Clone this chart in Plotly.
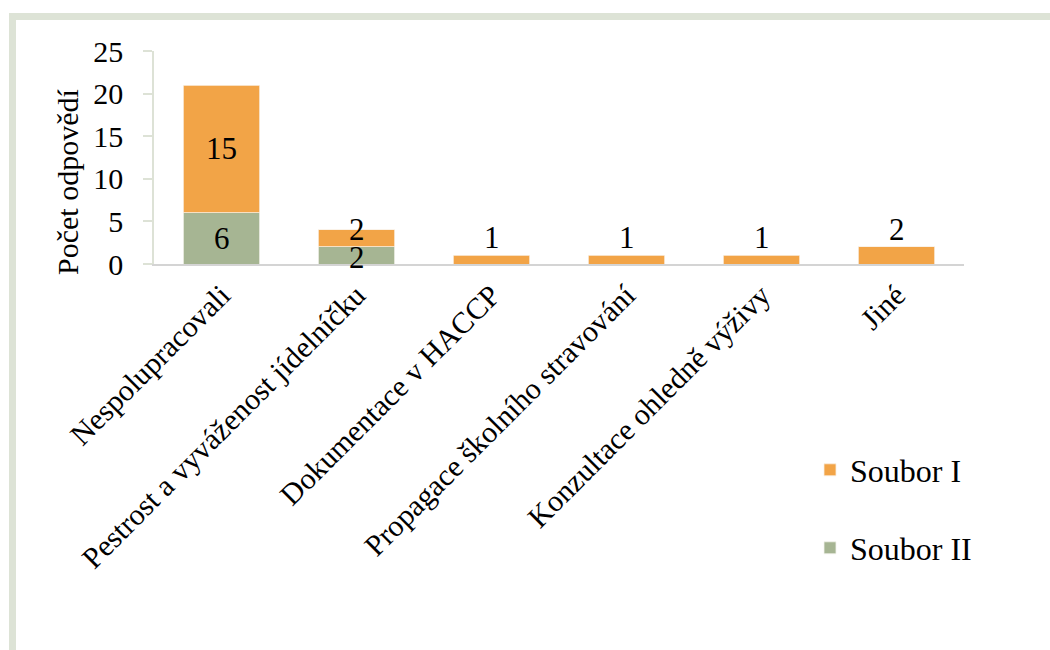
import plotly.graph_objects as go

categories = [
    "Nespolupracovali",
    "Pestrost a vyváženost jídelníčku",
    "Dokumentace v HACCP",
    "Propagace školního stravování",
    "Konzultace ohledně výživy",
    "Jiné",
]
soubor_i = [15, 2, 1, 1, 1, 2]
soubor_ii = [6, 2, 0, 0, 0, 0]

y_ticks = [0, 5, 10, 15, 20, 25]

ORANGE = "#F2A447"
GREEN = "#A6B593"
FONT = "Liberation Serif"

# plot-area geometry in pixels (used to place the frame, title and legends in paper coordinates)
W, H = 1050, 650
L, R, T, B = 154, 86, 51, 386
pw, ph = W - L - R, H - T - B


def px_x(x):
    return (x - L) / pw


def px_y(y):
    return (H - B - y) / ph


legend_font = dict(family=FONT, size=32, color="black")

fig = go.Figure()
fig.add_trace(go.Bar(
    x=categories, y=soubor_ii, name="Soubor II",
    marker=dict(color=GREEN, line=dict(color="#f4f4ee", width=0.8)),
    legend="legend2",
))
fig.add_trace(go.Bar(
    x=categories, y=soubor_i, name="Soubor I",
    marker=dict(color=ORANGE, line=dict(color="#f9efe2", width=0.8)),
    legend="legend",
))

# value labels: centred in each segment of a two-part stack (thin segments push
# their label outward so the two numbers do not collide), above a single bar
label_font = dict(family=FONT, size=31, color="black")
annotations = []
for cat, a, b in zip(categories, soubor_i, soubor_ii):
    if b:
        annotations.append(dict(x=cat, y=b / 2, text=str(b), showarrow=False,
                                xref="x", yref="y", yanchor="middle",
                                yshift=-2 if b < 3 else 0, font=label_font))
        annotations.append(dict(x=cat, y=b + a / 2, text=str(a), showarrow=False,
                                xref="x", yref="y", yanchor="middle",
                                yshift=9 if a < 3 else 0, font=label_font))
    elif a:
        annotations.append(dict(x=cat, y=a, text=str(a), showarrow=False,
                                xref="x", yref="y", yanchor="bottom", yshift=-2,
                                font=label_font))

annotations.append(dict(
    text="Počet odpovědí", textangle=-90, showarrow=False,
    xref="paper", yref="paper", x=px_x(67), y=px_y(182),
    xanchor="center", yanchor="middle",
    font=dict(family=FONT, size=30, color="black"),
))

fig.update_layout(
    width=W, height=H,
    margin=dict(l=L, r=R, t=T, b=B),
    barmode="stack",
    bargap=0.43,
    paper_bgcolor="white",
    plot_bgcolor="white",
    font=dict(family=FONT, size=30, color="black"),
    showlegend=True,
    legend=dict(
        x=px_x(810), y=px_y(470), xanchor="left", yanchor="middle",
        font=legend_font, bgcolor="rgba(0,0,0,0)",
    ),
    legend2=dict(
        x=px_x(810), y=px_y(548), xanchor="left", yanchor="middle",
        font=legend_font, bgcolor="rgba(0,0,0,0)",
    ),
    xaxis=dict(
        tickangle=-45,
        showline=True, linecolor="#d4d4d4", linewidth=1.5,
        showgrid=False, ticks="",
        tickfont=dict(family=FONT, size=30),
    ),
    yaxis=dict(
        range=[0, 25], tickvals=y_ticks,
        showline=True, linecolor="#dde2d6", linewidth=1.5,
        ticks="outside", ticklen=9, tickcolor="#dde2d6", tickwidth=1.5,
        ticklabelstandoff=14,
        showgrid=False, zeroline=False,
        tickfont=dict(family=FONT, size=30),
    ),
    annotations=annotations,
    shapes=[dict(
        type="rect", xref="paper", yref="paper",
        x0=px_x(12.5), x1=px_x(1100), y0=px_y(700), y1=px_y(16.5),
        line=dict(color="#dde3d6", width=7), fillcolor="rgba(0,0,0,0)",
        layer="below",
    )],
)

fig.write_html("out.html")
